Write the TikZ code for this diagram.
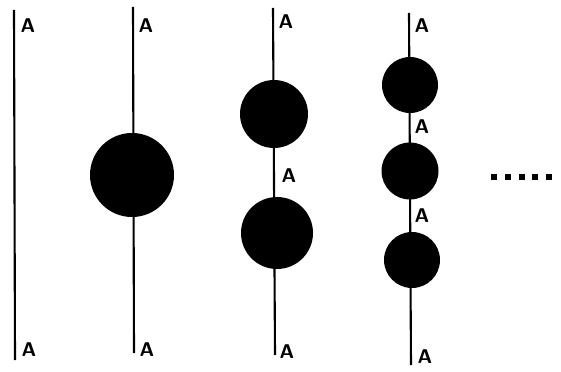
\documentclass[tikz,border=0pt]{standalone}
\usepackage{tikz}

\tikzset{
  strand/.style={line width=1.8pt},
  bead/.style={circle,fill=black,inner sep=0pt},
  lbl/.style={font=\sffamily\bfseries\fontsize{17}{17}\selectfont,inner sep=0pt},
  dot/.style={fill=black,inner sep=0pt,minimum size=4.5pt}
}

\begin{document}
\begin{tikzpicture}[x=0.03cm,y=-0.03cm]
\useasboundingbox (0,0) rectangle (561,372);
% strand 1
\coordinate (t1) at (14,10);
\coordinate (b1) at (15,360);
\draw[strand] (t1) -- (b1);
\node[lbl] (a1t) at (28,26) {A};
\node[lbl] (a1b) at (29,350) {A};
% strand 2
\coordinate (t2) at (133,7);
\coordinate (b2) at (134,353);
\draw[strand] (t2) -- (b2);
\node[bead,minimum size=84*0.03cm] (c21) at (132,175) {};
\node[lbl] (a2t) at (146,26) {A};
\node[lbl] (a2b) at (147,350) {A};
% strand 3
\coordinate (t3) at (273,8);
\coordinate (b3) at (275,355);
\draw[strand] (t3) -- (b3);
\node[bead,minimum size=68*0.03cm] (c31) at (274,114) {};
\node[bead,minimum size=72*0.03cm] (c32) at (277,233) {};
\node[lbl] (a3t) at (286,22) {A};
\node[lbl] (a3m) at (289,176) {A};
\node[lbl] (a3b) at (287,352) {A};
% strand 4
\coordinate (t4) at (409,13);
\coordinate (b4) at (411,365);
\draw[strand] (t4) -- (b4);
\node[bead,minimum size=56*0.03cm] (c41) at (410,85) {};
\node[bead,minimum size=57*0.03cm] (c42) at (410,171) {};
\node[bead,minimum size=56*0.03cm] (c43) at (412,260) {};
\node[lbl] (a4t) at (422,26) {A};
\node[lbl] (a4m1) at (422,127) {A};
\node[lbl] (a4m2) at (422,216) {A};
\node[lbl] (a4b) at (425,357) {A};
% dots
\foreach \i/\x in {1/494,2/508,3/522,4/535,5/549}
  \node[dot] (d\i) at (\x,177) {};
\end{tikzpicture}
\end{document}
